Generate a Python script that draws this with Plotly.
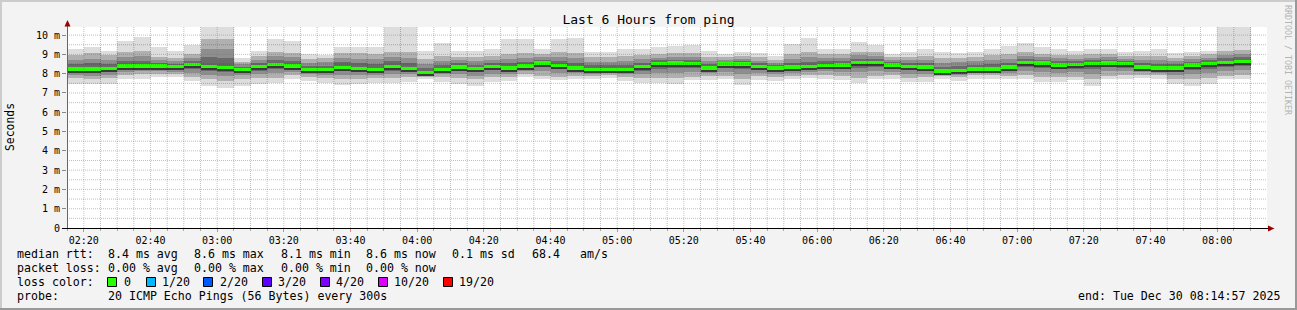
import plotly.graph_objects as go
import pandas as pd

# ---------------- data ----------------
start_time = "2025-12-30 02:17:30"   # centre of first 5-minute bar
x_range = ["2025-12-30 02:14:57", "2025-12-30 08:14:57"]

median_ms = [8.25, 8.25, 8.27, 8.40, 8.40, 8.40, 8.37, 8.48, 8.36, 8.31,
             8.22, 8.36, 8.48, 8.40, 8.22, 8.22, 8.33, 8.27, 8.22, 8.36,
             8.28, 8.06, 8.22, 8.35, 8.27, 8.36, 8.30, 8.40, 8.56, 8.44,
             8.30, 8.22, 8.22, 8.22, 8.36, 8.52, 8.55, 8.53, 8.30, 8.50,
             8.50, 8.36, 8.30, 8.35, 8.36, 8.44, 8.45, 8.58, 8.58, 8.45,
             8.37, 8.35, 8.14, 8.15, 8.25, 8.25, 8.34, 8.58, 8.55, 8.45,
             8.47, 8.52, 8.55, 8.52, 8.35, 8.30, 8.30, 8.45, 8.52, 8.58,
             8.63]
max_ms = [9.26, 9.38, 9.20, 9.72, 9.90, 9.38, 9.20, 9.50, 10.8, 10.8,
          8.83, 9.20, 9.78, 9.72, 9.00, 8.95, 9.38, 9.38, 9.38, 10.8,
          10.8, 9.20, 9.57, 9.20, 9.20, 9.26, 9.78, 9.78, 9.30, 9.78,
          9.83, 9.13, 9.13, 9.26, 9.30, 9.38, 9.43, 9.48, 9.20, 9.03,
          9.13, 9.08, 8.91, 9.55, 9.83, 9.30, 9.30, 9.65, 9.48, 9.03,
          9.13, 9.26, 9.10, 9.08, 9.13, 9.30, 9.43, 9.57, 9.38, 9.30,
          9.20, 9.26, 9.30, 9.13, 9.20, 9.26, 9.08, 9.13, 9.20, 10.8,
          10.8]
min_ms = [7.47, 7.47, 7.47, 7.72, 7.75, 7.82, 7.82, 7.61, 7.35, 7.25,
          7.35, 7.44, 7.53, 7.73, 7.61, 7.50, 7.42, 7.47, 7.53, 7.50,
          7.56, 7.70, 7.58, 7.47, 7.35, 7.58, 7.61, 7.82, 7.70, 7.65,
          7.70, 7.70, 7.79, 7.61, 7.53, 7.53, 7.47, 7.65, 7.65, 7.70,
          7.40, 7.65, 7.61, 7.70, 7.79, 7.75, 7.65, 7.53, 7.70, 7.72,
          7.58, 7.58, 7.70, 7.61, 7.75, 7.75, 7.70, 7.75, 7.58, 7.58,
          7.65, 7.35, 7.70, 7.75, 7.79, 7.75, 7.47, 7.35, 7.47, 7.70,
          7.75]
hi_ms = [8.95, 9.05, 8.95, 9.12, 9.18, 8.85, 8.82, 9.02, 9.80, 9.78,
         8.62, 8.90, 9.15, 9.08, 8.75, 8.80, 9.05, 9.05, 9.02, 9.15,
         9.10, 8.75, 8.92, 8.88, 8.85, 8.90, 9.00, 9.05, 9.00, 9.10,
         9.05, 8.85, 8.85, 8.90, 8.95, 9.00, 9.05, 9.05, 8.85, 8.85,
         8.90, 8.85, 8.72, 9.00, 9.10, 9.00, 9.00, 9.15, 9.10, 8.85,
         8.88, 8.92, 8.80, 8.82, 8.85, 8.95, 9.00, 9.10, 9.02, 8.98,
         8.95, 9.00, 9.02, 8.92, 8.90, 8.92, 8.82, 8.90, 9.00, 9.20,
         9.25]
lo_ms = [7.80, 7.72, 7.78, 7.95, 7.98, 7.98, 7.96, 7.82, 7.70, 7.62,
         7.75, 7.80, 7.80, 7.95, 7.82, 7.78, 7.72, 7.75, 7.80, 7.80,
         7.85, 7.85, 7.82, 7.78, 7.70, 7.82, 7.85, 7.98, 7.90, 7.85,
         7.90, 7.88, 7.95, 7.85, 7.80, 7.80, 7.78, 7.85, 7.88, 7.90,
         7.72, 7.88, 7.85, 7.90, 7.95, 7.95, 7.88, 7.80, 7.90, 7.92,
         7.80, 7.82, 7.88, 7.85, 7.92, 7.92, 7.90, 7.92, 7.82, 7.82,
         7.85, 7.70, 7.90, 7.92, 7.95, 7.92, 7.75, 7.70, 7.78, 7.90,
         7.92]

y_tick_vals = [0, 1, 2, 3, 4, 5, 6, 7, 8, 9, 10]
y_tick_text = ["0", "1 m", "2 m", "3 m", "4 m", "5 m", "6 m", "7 m", "8 m", "9 m", "10 m"]
y_top = 10.42

loss_labels = ["0", "1/20", "2/20", "3/20", "4/20", "10/20", "19/20"]
loss_colors = ["#26ff00", "#00b8ff", "#0059ff", "#5e00ff", "#7e00ff", "#dd00ff", "#ff0000"]

legend_rows = [
    ("median rtt:", ["8.4 ms avg", "8.6 ms max", "8.1 ms min", "8.6 ms now", "0.1 ms sd", "68.4", "am/s"]),
    ("packet loss:", ["0.00 % avg", "0.00 % max", "0.00 % min", "0.00 % now"]),
]
probe_text = "20 ICMP Echo Pings (56 Bytes) every 300s"
end_text = "end: Tue Dec 30 08:14:57 2025"
title_text = "Last 6 Hours from ping"

# ---------------- layout geometry (pixels) ----------------
W, H = 1297, 310
L, R, T, B = 67, 1267, 27, 228
FONT = "DejaVu Sans Mono"


def px(x):
    return (x - L) / (R - L)


def py(y):
    return (B - y) / (B - T)


times = pd.date_range(start_time, periods=len(median_ms), freq="5min")
BAR_W = 5 * 60 * 1000

fig = go.Figure()


def add_band(lo, hi, color):
    fig.add_trace(go.Bar(
        x=times, y=[h - l for l, h in zip(lo, hi)], base=lo,
        width=BAR_W, marker=dict(color=color, line=dict(width=0)),
        hoverinfo="skip", showlegend=False))


# smoke: outer (min..max) light, inner darker
add_band(min_ms, max_ms, "#dddddd")
add_band(lo_ms, hi_ms, "#b0b0b0")
for f, col in [(0.35, "#8e8e8e"), (0.65, "#6a6a6a")]:
    add_band([l + (m - l) * f for l, m in zip(lo_ms, median_ms)],
             [h - (h - m) * f for h, m in zip(hi_ms, median_ms)], col)
add_band([m - 0.19 for m in median_ms], [m + 0.07 for m in median_ms], "#3a3a3a")
# median line
add_band([m - 0.085 for m in median_ms], [m + 0.085 for m in median_ms], "#26ff00")

shapes = []
# grid on top of the smoke (as rrdtool draws it)
grid_times = pd.date_range("2025-12-30 02:20:00", "2025-12-30 08:10:00", freq="5min")
for t in grid_times:
    major = (t.minute % 20 == 0)
    shapes.append(dict(type="line", xref="x", yref="paper", x0=t, x1=t, y0=0, y1=1,
                       layer="above",
                       line=dict(color="rgba(255,60,60,0.45)" if major else "rgba(0,0,0,0.25)",
                                 width=1, dash="1px,1px")))
for i in range(1, 21):
    v = i * 0.5
    major = (i % 2 == 0)
    shapes.append(dict(type="line", xref="paper", yref="y", x0=0, x1=1, y0=v, y1=v,
                       layer="above",
                       line=dict(color="rgba(255,60,60,0.45)" if major else "rgba(0,0,0,0.25)",
                                 width=1, dash="1px,1px")))

# axes with arrows
shapes.append(dict(type="line", xref="paper", yref="paper", x0=px(67.5), x1=px(67.5),
                   y0=py(228), y1=py(23), line=dict(color="#666666", width=1), layer="above"))
shapes.append(dict(type="path", xref="paper", yref="paper",
                   path=f"M {px(64.5)} {py(26.5)} L {px(70.5)} {py(26.5)} L {px(67.5)} {py(20)} Z",
                   fillcolor="#990000", line=dict(width=0), layer="above"))
shapes.append(dict(type="line", xref="paper", yref="paper", x0=px(62), x1=px(1268),
                   y0=py(228.5), y1=py(228.5), line=dict(color="#000000", width=1), layer="above"))
shapes.append(dict(type="path", xref="paper", yref="paper",
                   path=f"M {px(1268)} {py(225.5)} L {px(1268)} {py(231.5)} L {px(1274.5)} {py(228.5)} Z",
                   fillcolor="#990000", line=dict(width=0), layer="above"))

# image frame
shapes.append(dict(type="rect", xref="paper", yref="paper", x0=px(0), x1=px(W), y0=py(0), y1=py(2),
                   fillcolor="#cccccc", line=dict(width=0), layer="above"))
shapes.append(dict(type="rect", xref="paper", yref="paper", x0=px(0), x1=px(2), y0=py(0), y1=py(H),
                   fillcolor="#cccccc", line=dict(width=0), layer="above"))
shapes.append(dict(type="rect", xref="paper", yref="paper", x0=px(0), x1=px(W), y0=py(H - 2), y1=py(H),
                   fillcolor="#999999", line=dict(width=0), layer="above"))
shapes.append(dict(type="rect", xref="paper", yref="paper", x0=px(W - 2), x1=px(W), y0=py(0), y1=py(H),
                   fillcolor="#999999", line=dict(width=0), layer="above"))

annotations = []


def text(x, y, s, anchor="left", size=11.6, color="#000000", angle=0):
    annotations.append(dict(x=px(x), y=py(y), xref="paper", yref="paper", text=s,
                            showarrow=False, xanchor=anchor, yanchor="middle",
                            textangle=angle, borderpad=0,
                            font=dict(family=FONT, size=size, color=color)))


row_y = [254, 268, 282, 296]
chunk_x = [[107, 193, 280, 365, 451, 531, 579], [107, 193, 280, 365]]
for (lab, parts), yy, xs in zip(legend_rows, row_y[:2], chunk_x):
    text(16, yy, lab)
    for s, xx in zip(parts, xs):
        text(xx, yy, s)

text(16, row_y[2], "loss color:")
square_x = [107, 146, 203, 262, 320, 378, 443]
label_x = [123, 161, 219, 277, 335, 393, 458]
for lab, col, sx, lx in zip(loss_labels, loss_colors, square_x, label_x):
    shapes.append(dict(type="rect", xref="paper", yref="paper",
                       x0=px(sx + 0.5), x1=px(sx + 9.5), y0=py(277.5), y1=py(286.5),
                       fillcolor=col, line=dict(color="#000000", width=1), layer="above"))
    text(lx, row_y[2], lab)

text(16, row_y[3], "probe:")
text(107, row_y[3], probe_text)
text(1281, row_y[3], end_text, anchor="right")

text(10, 127, "Seconds", anchor="center", size=11.4, angle=-90)
text(1288, 60, "RRDTOOL / TOBI OETIKER", anchor="center", size=8.3, color="#b4b4b4", angle=90)

fig.update_layout(
    width=W, height=H,
    margin=dict(l=L, r=W - R, t=T, b=H - B, pad=0),
    paper_bgcolor="#f3f3f3", plot_bgcolor="#ffffff",
    barmode="overlay", bargap=0, showlegend=False, hovermode=False,
    title=dict(text=title_text, x=0.5, xref="container", xanchor="center",
               y=1 - 19 / H, yref="container", yanchor="middle",
               font=dict(family=FONT, size=13, color="#000000")),
    shapes=shapes, annotations=annotations,
    xaxis=dict(type="date", range=x_range, showgrid=False, zeroline=False, showline=False,
               tick0="2025-12-30 02:20:00", dtick=20 * 60 * 1000, tickformat="%H:%M",
               ticks="outside", ticklen=3, tickcolor="#f08080", tickwidth=1,
               minor=dict(dtick=5 * 60 * 1000, ticks="outside", ticklen=2,
                          tickcolor="#aaaaaa", showgrid=False),
               tickfont=dict(family=FONT, size=10, color="#000000")),
    yaxis=dict(range=[0, y_top], showgrid=False, zeroline=False, showline=False,
               tickvals=y_tick_vals, ticktext=y_tick_text,
               ticks="outside", ticklen=4, tickcolor="#888888",
               tickfont=dict(family=FONT, size=10, color="#000000")),
)

fig.write_html("out.html")
